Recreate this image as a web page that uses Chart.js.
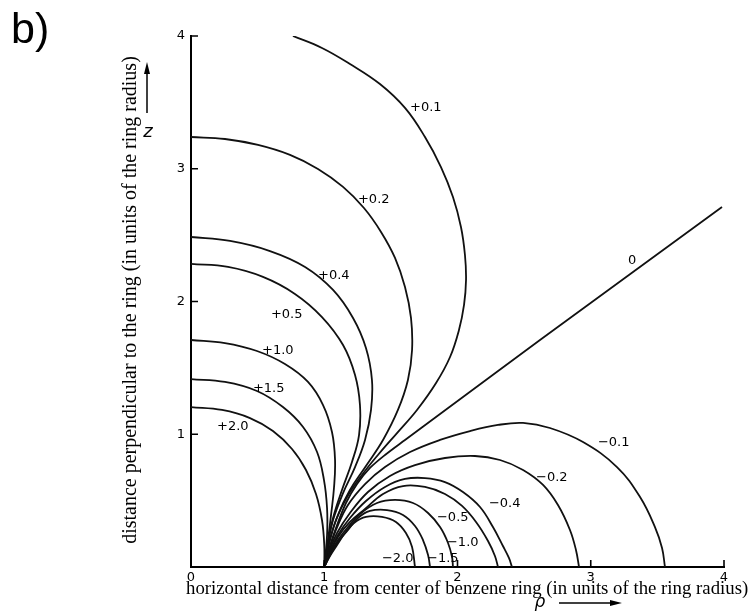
<!DOCTYPE html>
<html>
<head>
<meta charset="utf-8">
<script src="https://cdn.jsdelivr.net/npm/chart.js@4/dist/chart.umd.min.js"></script>
<style>
  html, body { margin: 0; padding: 0; background: #fff; }
  canvas { display: block; }
</style>
</head>
<body>
<canvas id="c" width="749" height="612"></canvas>
<script>
// Isoshielding contours of the benzene ring current, [rho, z] in ring radii.
// Shielding (+) contours run from the z axis down to the ring at rho = 1;
// deshielding (-) contours arc from the ring out to the rho axis.
const plus2_0 = [[0,1.205],[0.233,1.183],[0.443,1.122],[0.615,1.024],[0.758,0.889],[0.863,0.731],[0.938,0.55],[0.983,0.354],[1.0,0.166],[1,0]];
const plus1_5 = [[0,1.416],[0.255,1.394],[0.495,1.326],[0.69,1.205],[0.841,1.055],[0.946,0.866],[0.998,0.655],[1.021,0.444],[1.021,0.241],[1,0]];
const plus1_0 = [[0,1.71],[0.255,1.687],[0.495,1.627],[0.705,1.529],[0.878,1.394],[0.991,1.22],[1.058,1.017],[1.081,0.806],[1.073,0.595],[1.051,0.392],[1.028,0.203],[1,0]];
const plus0_5 = [[0,2.283],[0.278,2.26],[0.54,2.185],[0.78,2.057],[0.983,1.883],[1.141,1.672],[1.231,1.446],[1.268,1.22],[1.261,0.994],[1.208,0.791],[1.133,0.58],[1.066,0.369],[1.028,0.181],[1,0]];
const plus0_4 = [[0,2.486],[0.293,2.456],[0.593,2.38],[0.856,2.26],[1.066,2.087],[1.216,1.876],[1.313,1.65],[1.358,1.409],[1.351,1.183],[1.306,0.957],[1.231,0.753],[1.141,0.557],[1.066,0.354],[1.028,0.181],[1,0]];
const plus0_2 = [[0,3.239],[0.255,3.224],[0.503,3.179],[0.743,3.104],[0.953,2.998],[1.141,2.863],[1.298,2.704],[1.426,2.524],[1.531,2.328],[1.606,2.109],[1.651,1.876],[1.659,1.635],[1.628,1.409],[1.553,1.183],[1.441,0.957],[1.313,0.761],[1.193,0.58],[1.103,0.392],[1.043,0.203],[1,0]];
const plus0_1 = [[0.765,4.0],[0.983,3.91],[1.193,3.789],[1.418,3.638],[1.606,3.458],[1.756,3.239],[1.876,3.013],[1.966,2.787],[2.026,2.561],[2.056,2.35],[2.064,2.162],[2.049,1.974],[2.011,1.785],[1.944,1.582],[1.839,1.386],[1.696,1.183],[1.546,1.009],[1.403,0.844],[1.283,0.693],[1.171,0.527],[1.088,0.354],[1.036,0.181],[1,0]];
const zeroLine = [[3.985,2.712],[2.619,1.71],[1.869,1.153],[1.606,0.957],[1.456,0.844],[1.343,0.746],[1.246,0.625],[1.163,0.482],[1.096,0.316],[1.043,0.158],[1,0]];
const minus0_1 = [[1,0],[1.036,0.128],[1.088,0.279],[1.178,0.467],[1.306,0.625],[1.456,0.753],[1.644,0.866],[1.869,0.957],[2.094,1.024],[2.304,1.07],[2.492,1.085],[2.694,1.047],[2.942,0.941],[3.197,0.753],[3.37,0.527],[3.482,0.301],[3.535,0.143],[3.557,0]];
const minus0_2 = [[1,0],[1.036,0.113],[1.096,0.256],[1.193,0.407],[1.328,0.565],[1.493,0.686],[1.681,0.768],[1.906,0.821],[2.131,0.836],[2.319,0.806],[2.492,0.731],[2.642,0.618],[2.754,0.467],[2.844,0.279],[2.889,0.128],[2.912,0]];
const minus0_4 = [[1,0],[1.043,0.113],[1.103,0.241],[1.193,0.369],[1.313,0.497],[1.456,0.603],[1.606,0.663],[1.756,0.67],[1.906,0.64],[2.041,0.565],[2.169,0.452],[2.266,0.301],[2.341,0.158],[2.386,0.068],[2.409,0]];
const minus0_5 = [[1,0],[1.043,0.105],[1.103,0.226],[1.193,0.339],[1.306,0.437],[1.441,0.55],[1.591,0.61],[1.756,0.603],[1.906,0.55],[2.034,0.46],[2.139,0.339],[2.229,0.196],[2.281,0.083],[2.304,0]];
const minus1_0 = [[1,0],[1.043,0.098],[1.103,0.203],[1.178,0.301],[1.268,0.399],[1.396,0.482],[1.531,0.505],[1.666,0.482],[1.779,0.407],[1.869,0.301],[1.929,0.181],[1.959,0.075],[1.966,0]];
const minus1_5 = [[1,0],[1.043,0.09],[1.103,0.188],[1.178,0.279],[1.253,0.369],[1.343,0.422],[1.471,0.429],[1.591,0.392],[1.681,0.309],[1.741,0.203],[1.779,0.09],[1.794,0]];
const minus2_0 = [[1,0],[1.043,0.083],[1.096,0.166],[1.156,0.256],[1.223,0.331],[1.313,0.377],[1.433,0.377],[1.538,0.339],[1.613,0.256],[1.659,0.151],[1.681,0]];

// Contour label texts and their anchor points (left edge, vertical middle)
const labelTexts = ['+0.1','+0.2','+0.4','+0.5','+1.0','+1.5','+2.0','0','\u22120.1','\u22120.2','\u22120.4','\u22120.5','\u22121.0','\u22121.5','\u22122.0'];
const labelRho   = [1.644, 1.253, 0.953, 0.600, 0.533, 0.465, 0.195, 3.280, 3.054, 2.589, 2.236, 1.846, 1.921, 1.771, 1.433];
const labelZ     = [3.458, 2.765, 2.192, 1.898, 1.627, 1.341, 1.055, 2.305, 0.934, 0.670, 0.475, 0.369, 0.181, 0.060, 0.060];

// Axis ticks
const tickValues = [0, 1, 2, 3, 4];

const curves = [
  ['+2.0', plus2_0], ['+1.5', plus1_5], ['+1.0', plus1_0], ['+0.5', plus0_5],
  ['+0.4', plus0_4], ['+0.2', plus0_2], ['+0.1', plus0_1], ['0', zeroLine],
  ['-0.1', minus0_1], ['-0.2', minus0_2], ['-0.4', minus0_4], ['-0.5', minus0_5],
  ['-1.0', minus1_0], ['-1.5', minus1_5], ['-2.0', minus2_0]
];

const datasets = curves.map(([name, pts]) => ({
  label: name,
  data: pts.map(([r, z]) => ({ x: r, y: z })),
  showLine: true,
  borderColor: '#111',
  borderWidth: 1.8,
  pointRadius: 0,
  pointHoverRadius: 0,
  fill: false,
  tension: name === '0' ? 0.3 : 0.4
}));

function arrowHead(ctx, tipX, tipY, dx, dy, len, half) {
  // dx,dy: unit direction of the arrow
  const bx = tipX - dx * len, by = tipY - dy * len;
  ctx.beginPath();
  ctx.moveTo(tipX, tipY);
  ctx.lineTo(bx - dy * half, by + dx * half);
  ctx.lineTo(bx + dy * half, by - dx * half);
  ctx.closePath();
  ctx.fill();
}

const decor = {
  id: 'decor',
  afterDraw(chart) {
    const { ctx, chartArea: a, scales: { x, y } } = chart;
    ctx.save();
    ctx.strokeStyle = '#000';
    ctx.fillStyle = '#000';

    // inward tick marks
    ctx.lineWidth = 1.6;
    ctx.beginPath();
    tickValues.forEach(v => {
      if (v === 0) return;
      const px = x.getPixelForValue(v);
      ctx.moveTo(px, a.bottom); ctx.lineTo(px, a.bottom - 7);
      const py = y.getPixelForValue(v);
      ctx.moveTo(a.left, py); ctx.lineTo(a.left + 7, py);
    });
    ctx.stroke();

    // contour labels
    ctx.font = '13px "DejaVu Sans"';
    ctx.textAlign = 'left';
    ctx.textBaseline = 'middle';
    labelTexts.forEach((t, i) => {
      ctx.fillText(t, x.getPixelForValue(labelRho[i]), y.getPixelForValue(labelZ[i]));
    });

    // axis titles
    ctx.font = '18.8px "Liberation Serif"';
    ctx.textBaseline = 'alphabetic';
    ctx.textAlign = 'left';
    ctx.fillText('horizontal distance from center of benzene ring (in units of the ring radius)', 186, 594);

    ctx.save();
    ctx.font = '20px "Liberation Serif"';
    ctx.translate(136, 300);
    ctx.rotate(-Math.PI / 2);
    ctx.textAlign = 'center';
    ctx.fillText('distance perpendicular to the ring (in units of the ring radius)', 0, 0);
    ctx.restore();

    // panel tag
    ctx.font = '43px "Liberation Sans"';
    ctx.fillText('b)', 11, 43);

    // z symbol with upward arrow
    ctx.font = 'italic 18px "DejaVu Sans"';
    ctx.textAlign = 'center';
    ctx.fillText('z', 148, 137);
    ctx.lineWidth = 1.5;
    ctx.beginPath(); ctx.moveTo(147, 113); ctx.lineTo(147, 70); ctx.stroke();
    arrowHead(ctx, 147, 62, 0, -1, 12, 3);

    // rho symbol with rightward arrow
    ctx.font = 'italic 17px "DejaVu Sans"';
    ctx.fillText('\u03C1', 540, 607);
    ctx.beginPath(); ctx.moveTo(559, 603); ctx.lineTo(614, 603); ctx.stroke();
    arrowHead(ctx, 622, 603, 1, 0, 12, 3);

    ctx.restore();
  }
};

new Chart(document.getElementById('c'), {
  type: 'scatter',
  data: { datasets },
  options: {
    responsive: false,
    animation: false,
    events: [],
    layout: { padding: { left: 0, right: 25, top: 36, bottom: 0 } },
    plugins: { legend: { display: false }, tooltip: { enabled: false } },
    scales: {
      x: {
        type: 'linear', min: 0, max: 4,
        afterBuildTicks: s => { s.ticks = tickValues.map(v => ({ value: v })); },
        ticks: { color: '#000', font: { family: 'DejaVu Sans', size: 13 }, padding: 3, maxRotation: 0 },
        grid: { display: false, drawTicks: false },
        border: { display: true, color: '#000', width: 2 },
        afterFit: s => { s.height = 45; }
      },
      y: {
        type: 'linear', min: 0, max: 4,
        afterBuildTicks: s => { s.ticks = tickValues.map(v => ({ value: v })); },
        ticks: {
          color: '#000', font: { family: 'DejaVu Sans', size: 13 }, padding: 6,
          callback: v => (v === 0 ? '' : String(v))
        },
        grid: { display: false, drawTicks: false },
        border: { display: true, color: '#000', width: 2 },
        afterFit: s => { s.width = 191; }
      }
    }
  },
  plugins: [decor]
});
</script>
</body>
</html>
